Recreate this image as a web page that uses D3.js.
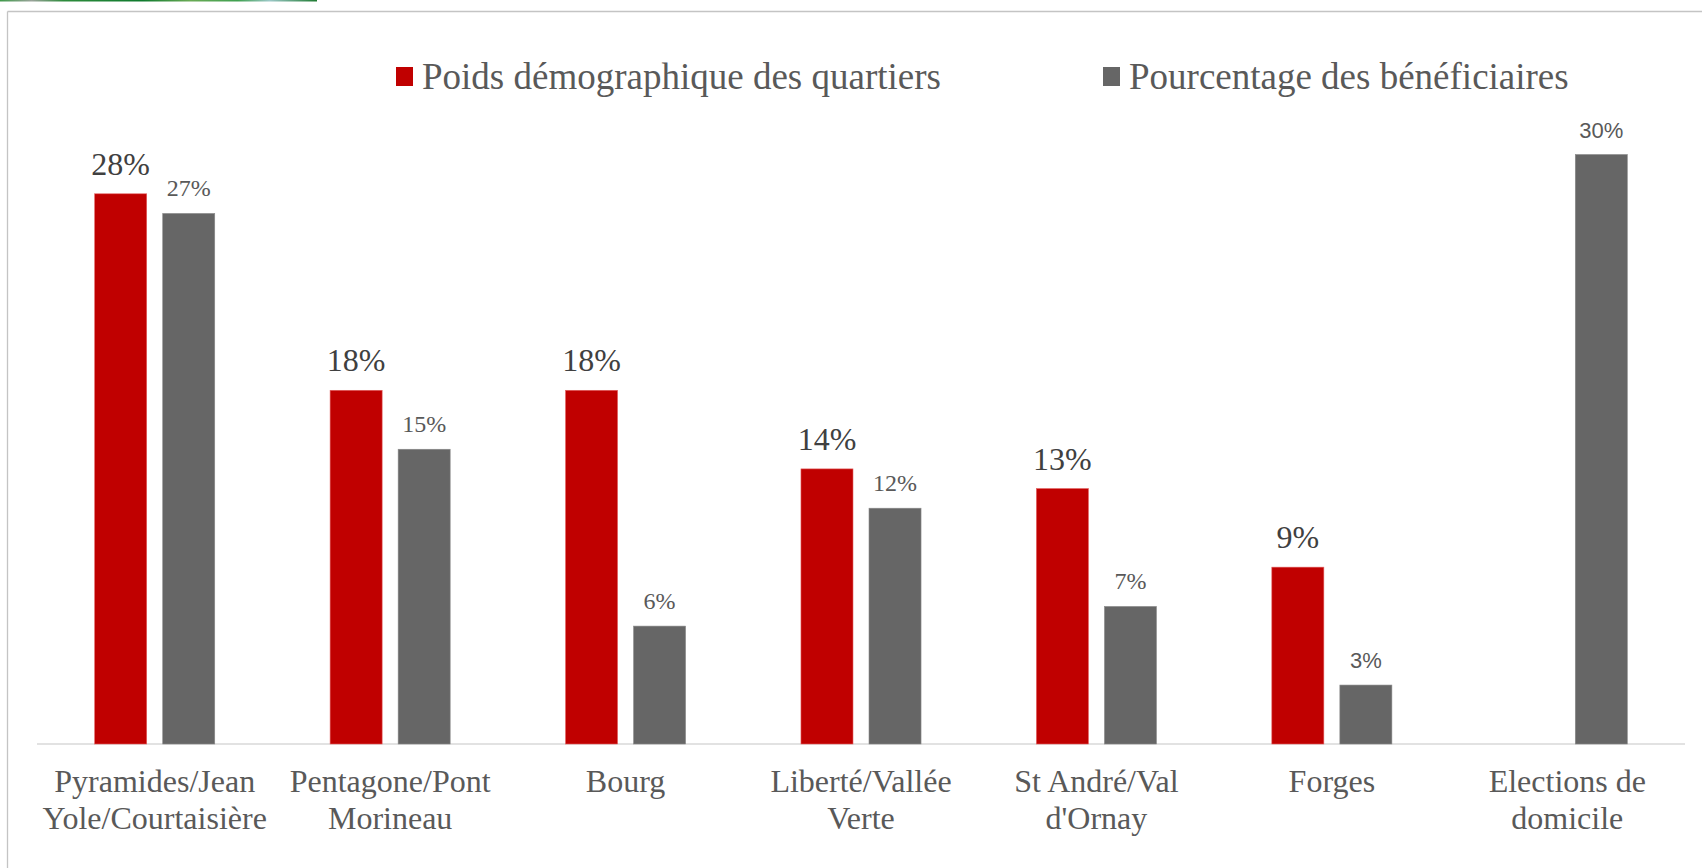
<!DOCTYPE html>
<html>
<head>
<meta charset="utf-8">
<script src="https://cdn.jsdelivr.net/npm/d3@7"></script>
<style>
  html, body { margin: 0; padding: 0; background: #fff; }
  svg { display: block; }
</style>
</head>
<body>
<svg id="chart" width="1702" height="868"></svg>
<script>
// ---- data ----
const categories = [
  ["Pyramides/Jean", "Yole/Courtaisière"],
  ["Pentagone/Pont", "Morineau"],
  ["Bourg"],
  ["Liberté/Vallée", "Verte"],
  ["St André/Val", "d'Ornay"],
  ["Forges"],
  ["Elections de", "domicile"]
];
const poidsDemographique = [28, 18, 18, 14, 13, 9, null];
const pourcentageBeneficiaires = [27, 15, 6, 12, 7, 3, 30];
const seriesNames = ["Poids démographique des quartiers", "Pourcentage des bénéficiaires"];
const seriesColors = ["#C00000", "#666666"];

// ---- layout ----
const svg = d3.select("#chart");
const W = 1702, H = 868;
const baseY = 744, plotLeft = 37, plotRight = 1685;
const serif = "'Liberation Serif', 'Times New Roman', serif";
const sans = "'Liberation Sans', Arial, sans-serif";

// frame
svg.append("line").attr("x1", 7.5).attr("x2", W).attr("y1", 11.5).attr("y2", 11.5)
  .attr("stroke", "#C4C4C4").attr("stroke-width", 1.3);
svg.append("line").attr("x1", 7.5).attr("x2", 7.5).attr("y1", 11.5).attr("y2", H)
  .attr("stroke", "#C4C4C4").attr("stroke-width", 1.3);

// green strip fragment at the top
const defs = svg.append("defs");
const grad = defs.append("linearGradient").attr("id", "gstrip");
[["0", "#3f9a4a"], ["0.1", "#9aa39a"], ["0.2", "#2e8b3c"], ["0.45", "#0f7a2e"], ["0.6", "#6aaa55"], ["0.75", "#3fa050"], ["0.85", "#9cc8c8"], ["1", "#1e7a30"]]
  .forEach(([o, c]) => grad.append("stop").attr("offset", o).attr("stop-color", c));
svg.append("rect").attr("x", 0).attr("y", 0).attr("width", 317).attr("height", 1.5).attr("fill", "url(#gstrip)");

const idx = d3.range(categories.length);
const x0 = d3.scaleBand().domain(idx).range([plotLeft, plotRight])
  .paddingInner(0.49).paddingOuter(0.245);
const x1 = d3.scaleBand().domain([0, 1]).range([0, x0.bandwidth()])
  .paddingInner(16 / 68).paddingOuter(0);
const y = d3.scaleLinear().domain([0, 35]).range([baseY, baseY - 35 * 19.65]);

// axis baseline
svg.append("line").attr("x1", plotLeft).attr("x2", plotRight).attr("y1", baseY).attr("y2", baseY)
  .attr("stroke", "#D9D9D9").attr("stroke-width", 1.5);

const series = [poidsDemographique, pourcentageBeneficiaires];
series.forEach((vals, s) => {
  const g = svg.append("g");
  const data = idx.filter(i => vals[i] != null).map(i => ({ i, v: vals[i] }));
  g.selectAll("rect").data(data).join("rect")
    .attr("x", d => x0(d.i) + x1(s))
    .attr("y", d => y(d.v))
    .attr("width", x1.bandwidth())
    .attr("height", d => baseY - y(d.v))
    .attr("fill", seriesColors[s])
    .attr("stroke", s === 0 ? "#E36060" : "#8a8a8a")
    .attr("stroke-width", 0.6);
  g.selectAll("text").data(data).join("text")
    .attr("x", d => x0(d.i) + x1(s) + x1.bandwidth() / 2)
    .attr("y", d => y(d.v) - (s === 0 ? 19 : 17))
    .attr("text-anchor", "middle")
    .attr("font-family", d => (s === 1 && (d.v === 30 || d.v === 3)) ? sans : serif)
    .attr("font-size", d => s === 0 ? 32 : ((d.v === 30 || d.v === 3) ? 22 : 24))
    .attr("fill", s === 0 ? "#404040" : "#595959")
    .text(d => d.v + "%");
});

// category labels
const catG = svg.append("g");
categories.forEach((lines, i) => {
  const t = catG.append("text")
    .attr("x", x0(i) + x0.bandwidth() / 2)
    .attr("y", 792)
    .attr("text-anchor", "middle")
    .attr("font-family", serif)
    .attr("font-size", 32)
    .attr("fill", "#595959");
  lines.forEach((ln, k) => {
    t.append("tspan").attr("x", x0(i) + x0.bandwidth() / 2).attr("dy", k === 0 ? 0 : 37).text(ln);
  });
});

// legend
const legendX = [396, 1103];
seriesNames.forEach((name, s) => {
  svg.append("rect").attr("x", legendX[s]).attr("y", 67).attr("width", 17).attr("height", 19)
    .attr("fill", seriesColors[s]);
  svg.append("text").attr("x", legendX[s] + 26).attr("y", 89)
    .attr("font-family", serif).attr("font-size", 37).attr("fill", "#595959")
    .text(name);
});
</script>
</body>
</html>
